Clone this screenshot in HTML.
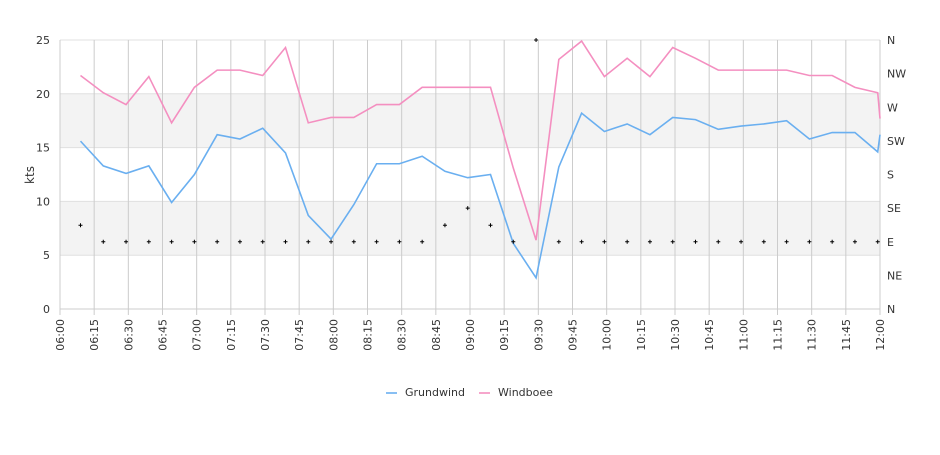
<!DOCTYPE html>
<html><head><meta charset="utf-8"><style>
body{margin:0;background:#fff;width:940px;height:450px;overflow:hidden}
svg text{font-family:"DejaVu Sans","Liberation Sans",sans-serif;font-size:11px;fill:#333}
</style></head><body>
<svg id="chart" width="940" height="450"></svg>
<script>
const times=["06:09","06:19","06:29","06:39","06:49","06:59","07:09","07:19","07:29","07:39","07:49","07:59","08:09","08:19","08:29","08:39","08:49","08:59","09:09","09:19","09:29","09:39","09:49","09:59","10:09","10:19","10:29","10:39","10:49","10:59","11:09","11:19","11:29","11:39","11:49","11:59","12:00"];
const grundwind=[15.6,13.3,12.6,13.3,9.9,12.5,16.2,15.8,16.8,14.5,8.7,6.5,9.7,13.5,13.5,14.2,12.8,12.2,12.5,6.1,2.9,13.2,18.2,16.5,17.2,16.2,17.8,17.6,16.7,17.0,17.2,17.5,15.8,16.4,16.4,14.6,16.2];
const windboee=[21.7,20.1,19.0,21.6,17.3,20.6,22.2,22.2,21.7,24.3,17.3,17.8,17.8,19.0,19.0,20.6,20.6,20.6,20.6,13.1,6.4,23.2,24.9,21.6,23.3,21.6,24.3,23.3,22.2,22.2,22.2,22.2,21.7,21.7,20.6,20.1,17.7];
const direction=[112,90,90,90,90,90,90,90,90,90,90,90,90,90,90,90,112,135,112,90,360,90,90,90,90,90,90,90,90,90,90,90,90,90,90,90];
const yTicks=[0,5,10,15,20,25];
const dirLabels=["N","NE","E","SE","S","SW","W","NW","N"];
const xLabels=["06:00","06:15","06:30","06:45","07:00","07:15","07:30","07:45","08:00","08:15","08:30","08:45","09:00","09:15","09:30","09:45","10:00","10:15","10:30","10:45","11:00","11:15","11:30","11:45","12:00"];

const X0=60,X1=880,Y0=309,Y1=40;
const mins=t=>{const[a,b]=t.split(":").map(Number);return a*60+b;};
const x=t=>X0+(mins(t)-360)/360*(X1-X0);
const y=v=>Y0-v/25*(Y0-Y1);
const yd=d=>Y0-d/360*(Y0-Y1);
const svg=document.getElementById('chart');
const NS="http://www.w3.org/2000/svg";
function mk(tag,attrs,parent){const e=document.createElementNS(NS,tag);for(const k in attrs)e.setAttribute(k,attrs[k]);(parent||svg).appendChild(e);return e;}

// bands
[[5,10],[15,20]].forEach((b,i)=>{const r=mk('rect',{x:X0,y:y(b[1]),width:X1-X0,height:y(b[0])-y(b[1]),fill:'#f3f3f3'});

});
// horizontal lines & y labels
yTicks.forEach(v=>{const l=mk('line',{x1:X0,x2:X1,y1:y(v),y2:y(v),stroke:'#e0e0e0'});


const t=mk('text',{x:50,y:y(v)+4,'text-anchor':'end'});t.textContent=v;

});
// vertical grid & x labels
xLabels.forEach(s=>{const xx=x(s);
const l=mk('line',{x1:xx,x2:xx,y1:Y1,y2:Y0+6,stroke:'#ccc'});


const t=mk('text',{x:0,y:0,'text-anchor':'end',transform:`translate(${xx+4},${Y0+10}) rotate(-90)`});t.textContent=s;

});
mk('line',{x1:X0,x2:X1,y1:Y0,y2:Y0,stroke:'#ccc'});
// right labels
dirLabels.forEach((s,i)=>{const t=mk('text',{x:887,y:yd(i*45)+4});t.textContent=s;

});
// y title
const yt=mk('text',{x:0,y:0,'text-anchor':'middle',transform:'translate(34,175) rotate(-90)',style:'font-size:12px'});yt.textContent='kts';


// series
function line(vals,color,name){const p=mk('polyline',{points:vals.map((v,i)=>x(times[i])+','+y(v)).join(' '),fill:'none',stroke:color,'stroke-width':1.6});

}
line(windboee,'#f48fc0','windboee-line');
line(grundwind,'#6aaff0','grundwind-line');
// direction markers
direction.forEach((d,i)=>{const xx=x(times[i]),yy=yd(d);
const p=mk('path',{d:`M${xx-2} ${yy}H${xx+2}M${xx} ${yy-2}V${yy+2}`,stroke:'#000','stroke-width':1});

});
// legend
const lg=mk('g',{});


[['Grundwind','#6aaff0',386],['Windboee','#f48fc0',479]].forEach(a=>{
const g=mk('g',{},lg);


mk('line',{x1:a[2],x2:a[2]+11,y1:393,y2:393,stroke:a[1],'stroke-width':1.6},g);
const t=mk('text',{x:a[2]+19,y:396},g);t.textContent=a[0];});
</script>
</body></html>
